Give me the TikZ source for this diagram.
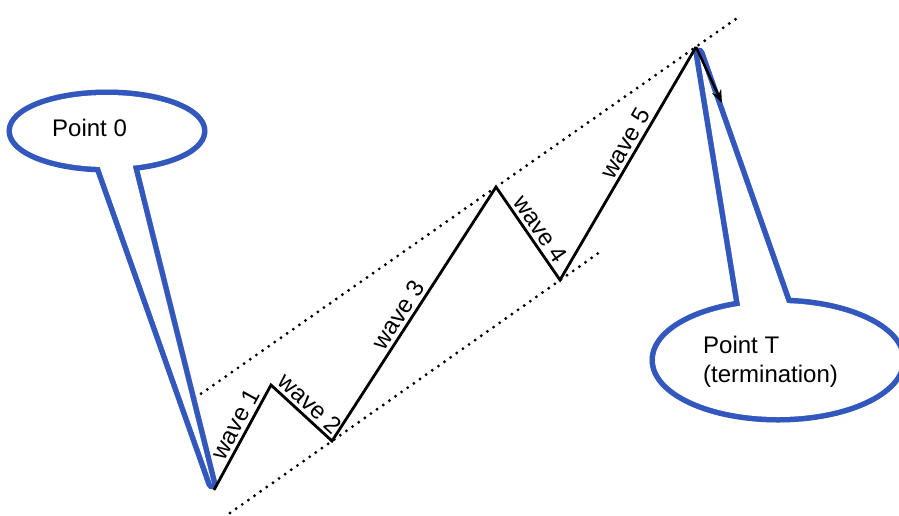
\documentclass[tikz,border=0pt]{standalone}
\usepackage{fontspec}
\setmainfont{Liberation Sans}
\usetikzlibrary{arrows.meta}
\definecolor{cblue}{RGB}{50,88,190}
\definecolor{cshadow}{RGB}{210,210,210}
\begin{document}
\begin{tikzpicture}[x=1pt,y=-1pt,
  wave/.style={line width=2.8pt, line join=miter},
  guide/.style={line width=3.2pt, dash pattern=on 0pt off 7.5pt, line cap=round},
  wlabel/.style={font=\fontsize{24}{24}\selectfont, sloped, above, inner sep=3pt},
  bstroke/.style={draw=cblue, line width=11pt, line join=round},
  bshadow/.style={draw=cshadow, fill=cshadow, line width=11pt, line join=round},
  bfill/.style={fill=white},
  btext/.style={font=\fontsize{24}{29}\selectfont, inner sep=0pt, anchor=west, align=left},
  arr/.style={line width=2.5pt, -{Stealth[length=13pt,width=10pt]}}
]
\useasboundingbox (0,0) rectangle (899,515);

% wave points
\coordinate (p0) at (214,490);
\coordinate (p1) at (271,385);
\coordinate (p2) at (332,441);
\coordinate (p3) at (496,187);
\coordinate (p4) at (560,280);
\coordinate (p5) at (696,47);
% guide line ends
\coordinate (ua) at (195,398);
\coordinate (ub) at (740,16);
\coordinate (la) at (230,513);
\coordinate (lb) at (600,252);
\coordinate (ae) at (722,103);

% callout points
\coordinate (c0) at (107,131);
\coordinate (t0) at (212,484);
\coordinate (b0l) at (87,131);
\coordinate (b0r) at (124,131);
\coordinate (cT) at (778,360);
\coordinate (tT) at (699,53);
\coordinate (bTl) at (749,360);
\coordinate (bTr) at (807,360);

% guides
\draw[guide] (ua) -- (ub);
\draw[guide] (la) -- (lb);

% shadows
\begin{scope}[xshift=-5pt,yshift=-5pt]
  \path[bshadow] (c0) ellipse [x radius=95pt, y radius=36pt];
  \path[bshadow] (t0) -- (b0l) -- (b0r) -- cycle;
  \path[bshadow] (cT) ellipse [x radius=123pt, y radius=57pt];
  \path[bshadow] (tT) -- (bTl) -- (bTr) -- cycle;
\end{scope}

% callout outlines
\path[bstroke] (c0) ellipse [x radius=95pt, y radius=36pt];
\path[bstroke] (t0) -- (b0l) -- (b0r) -- cycle;
\path[bstroke] (cT) ellipse [x radius=123pt, y radius=57pt];
\path[bstroke] (tT) -- (bTl) -- (bTr) -- cycle;
% callout fills
\path[bfill] (c0) ellipse [x radius=95pt, y radius=36pt];
\path[bfill] (t0) -- (b0l) -- (b0r) -- cycle;
\path[bfill] (cT) ellipse [x radius=123pt, y radius=57pt];
\path[bfill] (tT) -- (bTl) -- (bTr) -- cycle;

\node[btext] (l0) at (52,128) {Point 0};
\node[btext] (lT) at (703,362) {Point T\\(termination)};

% waves
\draw[wave] (p0) -- node[wlabel, pos=0.57] (w1) {wave 1} (p1)
  -- node[wlabel, pos=0.5] (w2) {wave 2} (p2)
  -- node[wlabel, pos=0.47] (w3) {wave 3} (p3)
  -- node[wlabel, pos=0.53] (w4) {wave 4} (p4)
  -- node[wlabel, pos=0.56] (w5) {wave 5} (p5);

\draw[arr] (p5) -- (ae);
\end{tikzpicture}
\end{document}
